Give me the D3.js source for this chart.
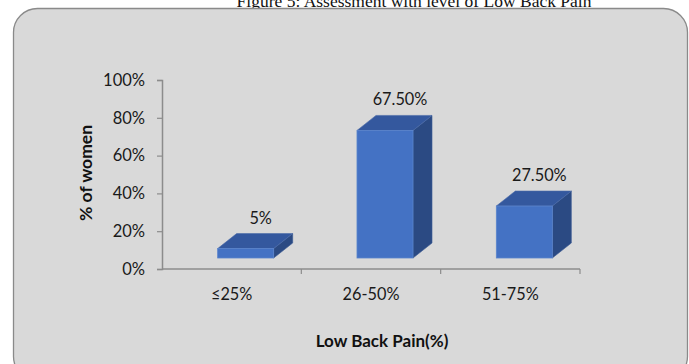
<!DOCTYPE html>
<html>
<head>
<meta charset="utf-8">
<script src="https://cdn.jsdelivr.net/npm/d3@7"></script>
<style>
  html, body { margin: 0; padding: 0; background: #ffffff; }
  svg { display: block; }
</style>
</head>
<body>
<svg id="chart" width="689" height="364"></svg>
<script>
// Share of women by level of low back pain
const categories = ["≤25%", "26-50%", "51-75%"];
const values = [0.05, 0.675, 0.275];
const valueLabels = ["5%", "67.50%", "27.50%"];
const yTicks = [0, 0.2, 0.4, 0.6, 0.8, 1.0];

const svg = d3.select("#chart");
const font = "Lato, 'Open Sans', sans-serif";

// Figure caption (sits above the frame)
svg.append("text")
  .attr("x", 414).attr("y", 7)
  .attr("text-anchor", "middle")
  .attr("font-family", "'Liberation Serif', 'Times New Roman', serif")
  .attr("font-size", 17.5)
  .attr("fill", "#111")
  .text("Figure 5: Assessment with level of Low Back Pain");

// Chart frame
svg.append("rect")
  .attr("x", 13.5).attr("y", 8.5)
  .attr("width", 674).attr("height", 372)
  .attr("rx", 24).attr("ry", 24)
  .attr("fill", "#d9d9d9")
  .attr("stroke", "#8a8a8a")
  .attr("stroke-width", 1.3);

// Plot geometry
const plot = { left: 162, right: 580, top: 80, bottom: 269 };
const depth = { dx: 19, dy: -15 };   // 3-D extrusion of each bar
const floorLift = 11;                // front faces stand slightly above the axis line

const x = d3.scaleBand()
  .domain(categories)
  .range([plot.left, plot.right])
  .paddingInner(0.598)
  .paddingOuter(0.299);

const y = d3.scaleLinear()
  .domain([0, 1])
  .range([plot.bottom, plot.top]);

const frontShift = 14;

// Axes
const yAxis = d3.axisLeft(y)
  .tickValues(yTicks)
  .tickFormat(d3.format(".0%"))
  .tickSize(5)
  .tickPadding(12);

const gy = svg.append("g")
  .attr("transform", `translate(${plot.left},0)`)
  .call(yAxis);
gy.select(".domain").attr("stroke", "#8c8c8c").attr("stroke-width", 1.5);
gy.selectAll(".tick line").attr("stroke", "#8c8c8c").attr("stroke-width", 1.2);
gy.selectAll(".tick text")
  .attr("font-family", font).attr("font-size", 16.5).attr("fill", "#1a1a1a");

const xAxisScale = d3.scalePoint()
  .domain(d3.range(categories.length + 1))
  .range([plot.left, plot.right]);

const gx = svg.append("g")
  .attr("transform", `translate(0,${plot.bottom})`);
gx.append("line")
  .attr("x1", plot.left).attr("x2", plot.right)
  .attr("stroke", "#8c8c8c").attr("stroke-width", 1.5);
gx.selectAll("line.tick")
  .data(d3.range(1, categories.length + 1))
  .join("line")
  .attr("class", "tick")
  .attr("x1", d => xAxisScale(d)).attr("x2", d => xAxisScale(d))
  .attr("y1", 0).attr("y2", 5)
  .attr("stroke", "#8c8c8c").attr("stroke-width", 1.2);

svg.append("g").selectAll("text")
  .data(categories)
  .join("text")
  .attr("x", d => x(d) + x.bandwidth() / 2)
  .attr("y", 299.5)
  .attr("text-anchor", "middle")
  .attr("font-family", font).attr("font-size", 16.3).attr("fill", "#1a1a1a")
  .text(d => d);

// Axis titles
svg.append("text")
  .attr("transform", "translate(92,173) rotate(-90)")
  .attr("text-anchor", "middle")
  .attr("font-family", font).attr("font-weight", "bold")
  .attr("font-size", 17.5).attr("fill", "#111")
  .text("% of women");

svg.append("text")
  .attr("x", 382).attr("y", 347)
  .attr("text-anchor", "middle")
  .attr("font-family", font).attr("font-weight", "bold")
  .attr("font-size", 17).attr("fill", "#111")
  .text("Low Back Pain(%)");

// 3-D bars
const bars = categories.map((c, i) => {
  const x0 = x(c) + frontShift;
  const x1 = x0 + x.bandwidth();
  const yt = y(values[i]) - floorLift;
  const yb = y(0) - floorLift;
  return { c, v: values[i], label: valueLabels[i], x0, x1, yt, yb };
});

const gBars = svg.append("g");
const bar = gBars.selectAll("g").data(bars).join("g");

// right side
bar.append("path")
  .attr("d", d => `M${d.x1},${d.yt} L${d.x1 + depth.dx},${d.yt + depth.dy} L${d.x1 + depth.dx},${d.yb + depth.dy} L${d.x1},${d.yb} Z`)
  .attr("fill", "#2b4a83").attr("stroke", "#3b5a94").attr("stroke-width", 0.6);
// top
bar.append("path")
  .attr("d", d => `M${d.x0},${d.yt} L${d.x0 + depth.dx},${d.yt + depth.dy} L${d.x1 + depth.dx},${d.yt + depth.dy} L${d.x1},${d.yt} Z`)
  .attr("fill", "#34589e").attr("stroke", "#4a6aa8").attr("stroke-width", 0.6);
// front
bar.append("rect")
  .attr("x", d => d.x0).attr("y", d => d.yt)
  .attr("width", d => d.x1 - d.x0).attr("height", d => d.yb - d.yt)
  .attr("fill", "#4472c4").attr("stroke", "#5a84cc").attr("stroke-width", 0.8);

// value labels
bar.append("text")
  .attr("x", d => (d.x0 + d.x1) / 2 + 15)
  .attr("y", d => d.yt + depth.dy - 10)
  .attr("text-anchor", "middle")
  .attr("font-family", font).attr("font-size", 16.3).attr("fill", "#1a1a1a")
  .text(d => d.label);
</script>
</body>
</html>
